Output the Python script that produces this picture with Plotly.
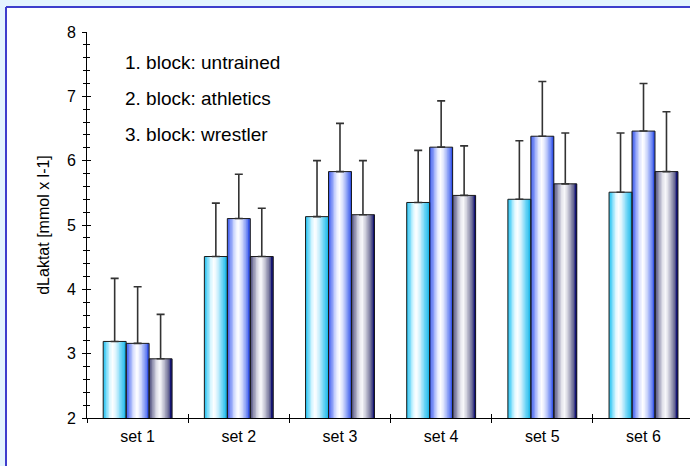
import plotly.graph_objects as go

# ---- data ----
sets = ["set 1", "set 2", "set 3", "set 4", "set 5", "set 6"]
untrained = [3.19, 4.51, 5.13, 5.35, 5.40, 5.51]
athletics = [3.16, 5.10, 5.83, 6.21, 6.38, 6.46]
wrestler = [2.92, 4.51, 5.16, 5.46, 5.64, 5.83]
err_untrained = [0.98, 0.83, 0.87, 0.81, 0.91, 0.92]
err_athletics = [0.88, 0.69, 0.75, 0.72, 0.85, 0.74]
err_wrestler = [0.69, 0.75, 0.84, 0.77, 0.79, 0.93]
legend_lines = ["1. block: untrained", "2. block: athletics", "3. block: wrestler"]
y_title = "dLaktat [mmol x l-1]"

# ---- styling ----
FONT = "Liberation Sans, Arial, sans-serif"
gradients = [
    [(0.0, "#22C0EE"), (0.12, "#66D6F8"), (0.28, "#D8F6FF"), (0.42, "#FFFFFF"),
     (0.58, "#D0F0FC"), (0.78, "#6AD4F6"), (1.0, "#18B4E6")],
    [(0.0, "#3656EE"), (0.14, "#7C92F6"), (0.32, "#DCE2FE"), (0.48, "#FFFFFF"),
     (0.64, "#D2DAFC"), (0.84, "#7890F4"), (1.0, "#2A4AE6")],
    [(0.0, "#484876"), (0.14, "#8A8AAA"), (0.32, "#DEDEE8"), (0.46, "#FAFAFC"),
     (0.62, "#CACAD8"), (0.84, "#6E6E96"), (1.0, "#00006E")],
]
series = [untrained, athletics, wrestler]
errors = [err_untrained, err_athletics, err_wrestler]
offsets = [-0.34, -0.113, 0.114]
BW = 0.227
N = 16


def hex2rgb(h):
    h = h.lstrip("#")
    return tuple(int(h[i:i + 2], 16) for i in (0, 2, 4))


def interp(stops, t):
    for (p0, c0), (p1, c1) in zip(stops[:-1], stops[1:]):
        if p0 <= t <= p1:
            f = (t - p0) / (p1 - p0) if p1 > p0 else 0
            a, b = hex2rgb(c0), hex2rgb(c1)
            r = [round(a[k] + (b[k] - a[k]) * f) for k in range(3)]
            return "rgb(%d,%d,%d)" % tuple(r)
    return stops[-1][1]


fig = go.Figure()

# gradient strips
for s, vals in enumerate(series):
    for i in range(N):
        t = (i + 0.5) / N
        w = BW / N
        width = w * 1.4 if i < N - 1 else w
        fig.add_trace(go.Bar(
            x=sets, y=vals, base=0,
            offset=offsets[s] + i * w, width=width,
            marker=dict(color=interp(gradients[s], t), line=dict(width=0)),
            hoverinfo="skip", showlegend=False,
            xaxis="x", yaxis="y",
        ))

# outlines + error bars on overlay axes
for s, vals in enumerate(series):
    fig.add_trace(go.Bar(
        x=sets, y=vals,
        offset=offsets[s], width=BW,
        marker=dict(color="rgba(0,0,0,0)", line=dict(color="#1a1a1a", width=1)),
        error_y=dict(type="data", symmetric=False, array=errors[s],
                     arrayminus=[0] * len(vals), color="#333333",
                     thickness=1.6, width=4),
        showlegend=False,
        xaxis="x2", yaxis="y2",
    ))

L, T = 87, 32
W_PX, H_PX = 690, 466
plot_w = W_PX - L
plot_h = 418 - T


def px_x(px):
    return (px - L) / plot_w


def px_y(py):
    return (418 - py) / plot_h


BAND = "#E4F4FE"
BORDER = "#3E3ECC"
shapes = [
    # light blue bands top and left
    dict(type="rect", xref="paper", yref="paper",
         x0=px_x(0), x1=px_x(W_PX), y0=px_y(7), y1=px_y(0),
         fillcolor=BAND, line=dict(width=0), layer="below"),
    dict(type="rect", xref="paper", yref="paper",
         x0=px_x(0), x1=px_x(6), y0=px_y(H_PX), y1=px_y(0),
         fillcolor=BAND, line=dict(width=0), layer="below"),
    # border lines
    dict(type="line", xref="paper", yref="paper",
         x0=px_x(6), x1=px_x(W_PX), y0=px_y(7), y1=px_y(7),
         line=dict(color=BORDER, width=2), layer="below"),
    dict(type="line", xref="paper", yref="paper",
         x0=px_x(6), x1=px_x(6), y0=px_y(H_PX), y1=px_y(7),
         line=dict(color=BORDER, width=2), layer="below"),
]

annotations = []
for k, txt in enumerate(legend_lines):
    annotations.append(dict(
        text=txt, xref="paper", yref="paper", x=px_x(123), y=px_y(63 + 35.5 * k),
        xanchor="left", yanchor="middle", showarrow=False,
        font=dict(family=FONT, size=19, color="black"),
    ))

xrange = [-0.5, 5.46]
yrange = [2, 8]

fig.update_layout(
    width=W_PX, height=H_PX,
    margin=dict(l=L, r=0, t=T, b=H_PX - 418),
    paper_bgcolor="white",
    plot_bgcolor="rgba(0,0,0,0)",
    barmode="overlay",
    font=dict(family=FONT, size=16, color="black"),
    shapes=shapes,
    annotations=annotations,
    xaxis=dict(
        type="category", categoryorder="array", categoryarray=sets,
        range=xrange, showline=True, linecolor="black", linewidth=1,
        ticks="outside", ticklen=4, tickcolor="black", tickson="boundaries",
        showgrid=False, zeroline=False, tickfont=dict(size=16),
        ticklabelstandoff=4,
    ),
    yaxis=dict(
        range=yrange, dtick=1, showline=True, linecolor="black", linewidth=1,
        ticks="outside", ticklen=4, tickcolor="black",
        minor=dict(dtick=0.2, ticks="outside", ticklen=3, tickcolor="black"),
        showgrid=False, zeroline=False, tickfont=dict(size=16),
        ticklabelstandoff=3,
        title=dict(text=y_title, font=dict(size=16), standoff=13),
    ),
    xaxis2=dict(
        type="category", categoryorder="array", categoryarray=sets,
        range=xrange, overlaying="x", anchor="y2", side="bottom",
        showline=False, ticks="inside", ticklen=4, tickcolor="black",
        tickson="boundaries", showticklabels=False, showgrid=False, zeroline=False,
    ),
    yaxis2=dict(
        range=yrange, dtick=1, overlaying="y", anchor="x2", side="left",
        showline=False, ticks="inside", ticklen=4, tickcolor="black",
        minor=dict(dtick=0.2, ticks="inside", ticklen=3, tickcolor="black"),
        showticklabels=False, showgrid=False, zeroline=False,
    ),
)

fig.write_html(
    "out.html",
    config={"displayModeBar": False},
    post_script="document.body.style.margin='0';document.body.style.padding='0';",
)
